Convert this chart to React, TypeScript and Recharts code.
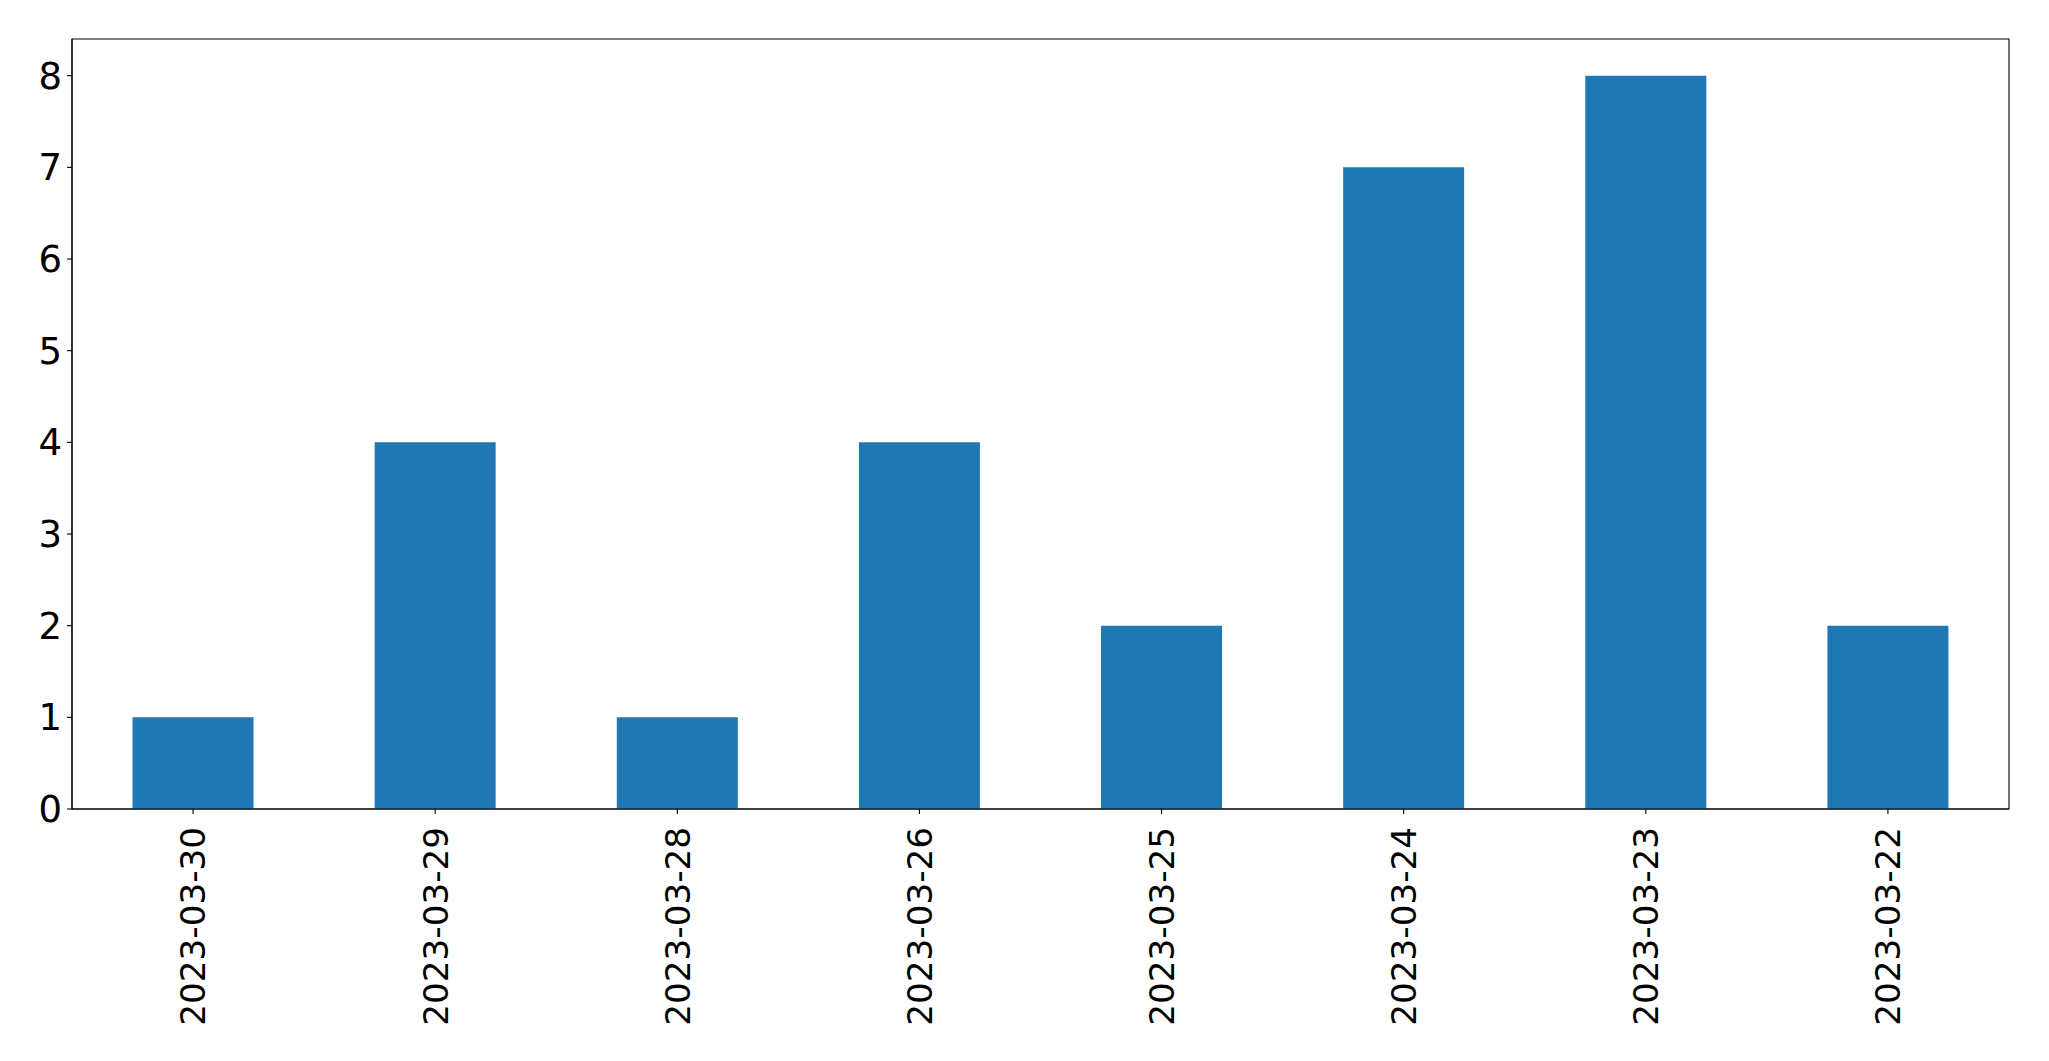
import { Bar, BarChart, ReferenceArea, XAxis, YAxis } from "recharts";

const DAYS = [
  "2023-03-30",
  "2023-03-29",
  "2023-03-28",
  "2023-03-26",
  "2023-03-25",
  "2023-03-24",
  "2023-03-23",
  "2023-03-22",
];
const COUNTS = [1, 4, 1, 4, 2, 7, 8, 2];
const Y_TICKS = [0, 1, 2, 3, 4, 5, 6, 7, 8];
const Y_MAX = 8.4;

const FONT = "'DejaVu Sans', sans-serif";

const data = DAYS.map((day, i) => ({ day, count: COUNTS[i] }));

function DayTick({ x, y, payload }: any) {
  return (
    <g transform={`translate(${x},${y})`}>
      <text
        transform="rotate(-90)"
        x={-13}
        y={0}
        dy="0.36em"
        textAnchor="end"
        fill="#000"
        fontSize={34.2}
        fontFamily={FONT}
      >
        {payload.value}
      </text>
    </g>
  );
}

export default function App() {
  return (
    <div style={{ position: "absolute", left: 0, top: 0, background: "#fff" }}>
      <BarChart
        width={2049}
        height={1061}
        data={data}
        margin={{ top: 39, right: 40, bottom: 0, left: 0 }}
        barCategoryGap="25%"
      >
        <XAxis
          dataKey="day"
          height={252}
          tick={<DayTick />}
          tickSize={5}
          tickMargin={0}
          tickLine={{ stroke: "#000", strokeWidth: 1.1 }}
          axisLine={{ stroke: "#000", strokeWidth: 1.1 }}
          interval={0}
        />
        <YAxis
          domain={[0, Y_MAX]}
          ticks={Y_TICKS}
          width={72}
          tickSize={5}
          tickMargin={5}
          tick={{ fill: "#000", fontSize: 37, fontFamily: FONT }}
          tickLine={{ stroke: "#000", strokeWidth: 1.1 }}
          axisLine={{ stroke: "#000", strokeWidth: 1.1 }}
          allowDataOverflow
        />
        <Bar dataKey="count" fill="#1f77b4" isAnimationActive={false} />
        {/* frame around the plot, like matplotlib's spines */}
        <ReferenceArea
          y1={0}
          y2={Y_MAX}
          fill="none"
          fillOpacity={0}
          stroke="#000"
          strokeWidth={1.1}
          ifOverflow="visible"
        />
      </BarChart>
    </div>
  );
}
